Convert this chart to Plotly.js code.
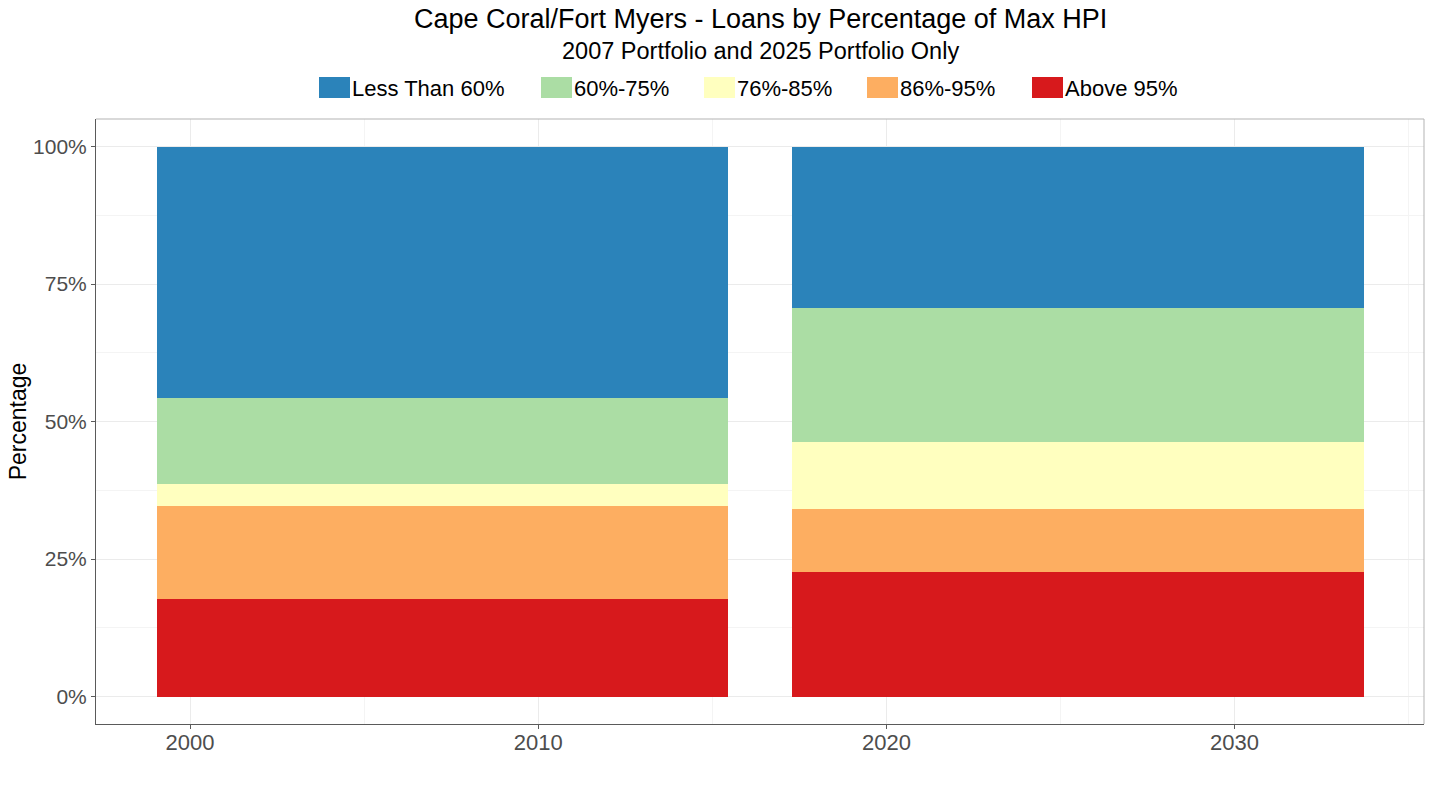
<!DOCTYPE html>
<html>
<head>
<meta charset="utf-8">
<script src="https://cdn.plot.ly/plotly-3.0.1.min.js"></script>
<style>
  html, body { margin: 0; padding: 0; background: #ffffff; }
  #chart { width: 1432px; height: 785px; }
</style>
</head>
<body>
<div id="chart"></div>
<script>
// Portfolio snapshots (decimal year of each portfolio)
const portfolioYears = [2007.25, 2025.5];

// Share of loans (%) in each band of max HPI, per portfolio
const lessThan60 = [45.8, 29.4];
const pct60to75  = [15.5, 24.3];
const pct76to85  = [4.1, 12.2];
const pct86to95  = [16.8, 11.5];
const above95    = [17.8, 22.6];

const bandNames  = ['Less Than 60%', '60%-75%', '76%-85%', '86%-95%', 'Above 95%'];
const bandColors = ['#2B83BA', '#ABDDA4', '#FFFFBF', '#FDAE61', '#D7191C'];
const bandValues = [lessThan60, pct60to75, pct76to85, pct86to95, above95];

const yTickVals   = [0, 25, 50, 75, 100];
const yTickLabels = ['0%', '25%', '50%', '75%', '100%'];

const FONT = 'Liberation Sans, Arial, sans-serif';

// Plot area in pixels
const W = 1432, H = 785;
const M = { l: 96, r: 8, t: 119, b: 61 };
const plotW = W - M.l - M.r;
const plotH = H - M.t - M.b;
const px2paperX = px => (px - M.l) / plotW;
const px2paperY = py => (H - M.b - py) / plotH;

// Bars stacked with the highest band at the bottom
const barWidth = 0.9 * (portfolioYears[1] - portfolioYears[0]);
const traces = [];
for (let i = bandNames.length - 1; i >= 0; i--) {
  traces.push({
    type: 'bar',
    name: bandNames[i],
    x: portfolioYears,
    y: bandValues[i],
    width: barWidth,
    marker: { color: bandColors[i], line: { width: 0 } },
    showlegend: false,
    hovertemplate: '%{y:.1f}%<extra>' + bandNames[i] + '</extra>'
  });
}

// Legend drawn as swatches + labels above the panel
const legendLeft = [319, 541, 704, 867, 1032];
const swatchW = 31, swatchTop = 77, swatchBottom = 98;
const shapes = [];
const annotations = [];
bandNames.forEach((name, i) => {
  shapes.push({
    type: 'rect', xref: 'paper', yref: 'paper', layer: 'above',
    x0: px2paperX(legendLeft[i]), x1: px2paperX(legendLeft[i] + swatchW),
    y0: px2paperY(swatchBottom), y1: px2paperY(swatchTop),
    fillcolor: bandColors[i], line: { width: 0 }
  });
  annotations.push({
    xref: 'paper', yref: 'paper',
    x: px2paperX(legendLeft[i] + swatchW), y: px2paperY((swatchTop + swatchBottom) / 2 + 1),
    xanchor: 'left', yanchor: 'middle', showarrow: false,
    text: name, font: { family: FONT, size: 22, color: '#000000' }
  });
});

// Panel border on the top and right (left/bottom are the axis lines)
shapes.push({ type: 'line', xref: 'paper', yref: 'paper', x0: 0, x1: 1, y0: 1, y1: 1,
  line: { color: '#b3b3b3', width: 1 }, layer: 'above' });
shapes.push({ type: 'line', xref: 'paper', yref: 'paper', x0: 1, x1: 1, y0: 0, y1: 1,
  line: { color: '#b3b3b3', width: 1 }, layer: 'above' });

// Chart titles
annotations.push({
  xref: 'paper', yref: 'paper', x: 0.5, y: px2paperY(19), xanchor: 'center', yanchor: 'middle',
  showarrow: false, text: 'Cape Coral/Fort Myers - Loans by Percentage of Max HPI',
  font: { family: FONT, size: 27, color: '#000000' }
});
annotations.push({
  xref: 'paper', yref: 'paper', x: 0.5, y: px2paperY(51), xanchor: 'center', yanchor: 'middle',
  showarrow: false, text: '2007 Portfolio and 2025 Portfolio Only',
  font: { family: FONT, size: 23.5, color: '#000000' }
});

const layout = {
  width: W, height: H,
  margin: M,
  paper_bgcolor: '#ffffff',
  plot_bgcolor: '#ffffff',
  barmode: 'stack',
  bargap: 0,
  showlegend: false,
  font: { family: FONT },
  xaxis: {
    range: [1997.3, 2035.44],
    tickmode: 'linear', tick0: 2000, dtick: 10,
    showgrid: true, gridcolor: '#ebebeb', gridwidth: 1,
    minor: { tick0: 2000, dtick: 5, showgrid: true, gridcolor: '#f4f4f4', gridwidth: 1, ticks: '' },
    zeroline: false,
    showline: true, linecolor: '#5a5a5a', linewidth: 1, mirror: false,
    ticks: 'outside', ticklen: 4, tickcolor: '#5a5a5a', tickwidth: 1,
    ticklabelstandoff: -5,
    tickfont: { family: FONT, size: 22, color: '#4d4d4d' },
    fixedrange: true
  },
  yaxis: {
    range: [-5, 105],
    tickmode: 'array', tickvals: yTickVals, ticktext: yTickLabels,
    showgrid: true, gridcolor: '#ebebeb', gridwidth: 1,
    minor: { tick0: 0, dtick: 12.5, showgrid: true, gridcolor: '#f4f4f4', gridwidth: 1, ticks: '' },
    zeroline: false,
    showline: true, linecolor: '#5a5a5a', linewidth: 1, mirror: false,
    ticks: 'outside', ticklen: 4, tickcolor: '#5a5a5a', tickwidth: 1,
    tickfont: { family: FONT, size: 21, color: '#4d4d4d' },
    title: { text: 'Percentage', font: { family: FONT, size: 23, color: '#000000' }, standoff: 0 },
    fixedrange: true
  },
  shapes: shapes,
  annotations: annotations
};

Plotly.newPlot('chart', traces, layout, { displayModeBar: false, staticPlot: true });
</script>
</body>
</html>
